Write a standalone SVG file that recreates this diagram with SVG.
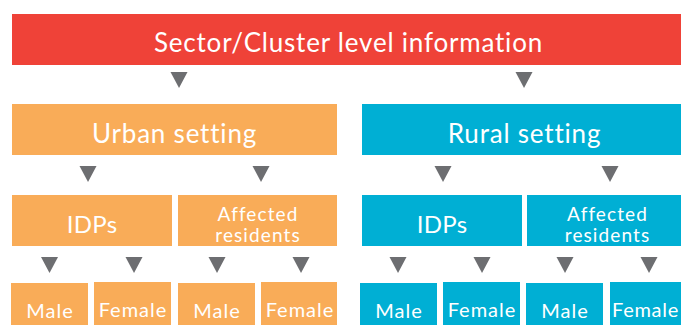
<svg xmlns="http://www.w3.org/2000/svg" width="681" height="325" viewBox="0 0 681 325">
<defs>
<style>
.red{fill:#EF4238}
.org{fill:#F9AC58}
.blu{fill:#00AFD4}
.t{fill:#FFFFFF;font-family:Lato,"Open Sans","DejaVu Sans",sans-serif;text-anchor:middle}
.t1{font-size:26px;letter-spacing:0.8px}
.t2{font-size:24px;letter-spacing:0.3px}
.t3{font-size:19px;letter-spacing:1.1px}
.t4{font-size:20px;letter-spacing:1px}
.arr{fill:#6D6E71}
</style>
<path id="tri" d="M-8.5,0 L8.5,0 L0,16 Z"/>
</defs>
<rect width="681" height="325" fill="#FFFFFF"/>
<g id="connectors" class="arr">
<use href="#tri" x="179" y="72"/>
<use href="#tri" x="524" y="72"/>
<use href="#tri" x="88" y="166"/>
<use href="#tri" x="261" y="166"/>
<use href="#tri" x="443" y="166"/>
<use href="#tri" x="610" y="166"/>
<use href="#tri" x="49.5" y="257"/>
<use href="#tri" x="134" y="257"/>
<use href="#tri" x="217" y="257"/>
<use href="#tri" x="301" y="257"/>
<use href="#tri" x="398" y="257"/>
<use href="#tri" x="482" y="257"/>
<use href="#tri" x="565" y="257"/>
<use href="#tri" x="649" y="257"/>
</g>
<g id="sector">
<rect class="red" x="12" y="14" width="669" height="51"/>
<text class="t t1" x="348.5" y="52">Sector/Cluster level information</text>
</g>
<g id="urban">
<rect class="org" x="12" y="104" width="325" height="51"/>
<text class="t t1" x="174.5" y="143">Urban setting</text>
</g>
<g id="rural">
<rect class="blu" x="362" y="104" width="319" height="51"/>
<text class="t t1" x="524.5" y="143">Rural setting</text>
</g>
<g id="urban-idps">
<rect class="org" x="12" y="195" width="160" height="51"/>
<text class="t t2" x="92" y="233">IDPs</text>
</g>
<g id="urban-affected">
<rect class="org" x="178" y="195" width="159" height="51"/>
<text class="t t3" x="258" y="220.5">Affected</text>
<text class="t t3" x="258" y="242">residents</text>
</g>
<g id="rural-idps">
<rect class="blu" x="362" y="195" width="160" height="51"/>
<text class="t t2" x="442" y="233">IDPs</text>
</g>
<g id="rural-affected">
<rect class="blu" x="527" y="195" width="154" height="51"/>
<text class="t t3" x="607.5" y="220.5">Affected</text>
<text class="t t3" x="607.5" y="242">residents</text>
</g>
<g id="urban-idps-male">
<rect class="org" x="11" y="283" width="77" height="42"/>
<text class="t t4" x="50" y="318">Male</text>
</g>
<g id="urban-idps-female">
<rect class="org" x="94" y="282" width="77" height="43"/>
<text class="t t4" x="133" y="317">Female</text>
</g>
<g id="urban-affected-male">
<rect class="org" x="178" y="283" width="77" height="42"/>
<text class="t t4" x="217" y="318">Male</text>
</g>
<g id="urban-affected-female">
<rect class="org" x="261" y="282" width="76" height="43"/>
<text class="t t4" x="300" y="317">Female</text>
</g>
<g id="rural-idps-male">
<rect class="blu" x="360" y="283" width="77" height="42"/>
<text class="t t4" x="399" y="318">Male</text>
</g>
<g id="rural-idps-female">
<rect class="blu" x="443" y="282" width="77" height="43"/>
<text class="t t4" x="482" y="317">Female</text>
</g>
<g id="rural-affected-male">
<rect class="blu" x="526" y="283" width="77" height="42"/>
<text class="t t4" x="565" y="318">Male</text>
</g>
<g id="rural-affected-female">
<rect class="blu" x="610" y="282" width="71" height="43"/>
<text class="t t4" x="645.5" y="317" style="letter-spacing:0.7px">Female</text>
</g>
</svg>
